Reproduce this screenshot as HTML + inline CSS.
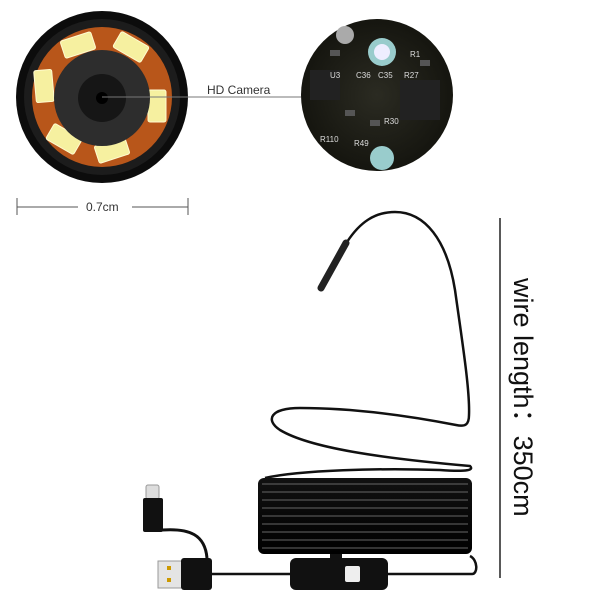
<!DOCTYPE html>
<html><head><meta charset="utf-8"><style>
html,body{margin:0;padding:0;background:#fff;width:600px;height:600px;overflow:hidden}
svg{display:block}
text{font-family:"Liberation Sans","Noto Sans CJK SC",sans-serif}
</style></head><body>
<svg width="600" height="600" viewBox="0 0 600 600" xmlns="http://www.w3.org/2000/svg">
<defs>
<radialGradient id="pcb" cx="50%" cy="50%" r="50%">
<stop offset="0" stop-color="#2b2b22"/><stop offset="1" stop-color="#15150f"/>
</radialGradient>
<linearGradient id="coil" x1="0" y1="0" x2="0" y2="1">
<stop offset="0" stop-color="#111"/><stop offset="1" stop-color="#000"/>
</linearGradient>
</defs>
<circle cx="102" cy="97" r="86" fill="#0c0c0c"/>
<circle cx="102" cy="97" r="78" fill="#1c1c1c"/>
<circle cx="102" cy="97" r="70" fill="#b8561a"/>
<g fill="#f6f0a0" stroke="#fffbd0" stroke-width="1">
<rect x="62" y="36" width="32" height="18" rx="2" transform="rotate(-18 78 45)"/>
<rect x="115" y="38" width="32" height="18" rx="2" transform="rotate(30 131 47)"/>
<rect x="148" y="90" width="18" height="32" rx="2"/>
<rect x="35" y="70" width="18" height="32" rx="2" transform="rotate(-5 44 86)"/>
<rect x="48" y="130" width="32" height="18" rx="2" transform="rotate(30 64 139)"/>
<rect x="96" y="141" width="32" height="18" rx="2" transform="rotate(-18 112 150)"/>
</g>
<circle cx="102" cy="98" r="48" fill="#2d2d2d"/>
<circle cx="102" cy="98" r="24" fill="#161616"/>
<circle cx="102" cy="98" r="6" fill="#000"/>
<line x1="102" y1="97" x2="306" y2="97" stroke="#777" stroke-width="1"/>
<text x="207" y="94" font-size="12" fill="#333">HD Camera</text>
<circle cx="377" cy="95" r="76" fill="url(#pcb)"/>
<g fill="#555">
<rect x="310" y="70" width="30" height="30" fill="#222"/>
<rect x="400" y="80" width="40" height="40" fill="#222"/>
<rect x="345" y="110" width="10" height="6"/><rect x="370" y="120" width="10" height="6"/>
<rect x="420" y="60" width="10" height="6"/><rect x="330" y="50" width="10" height="6"/>
</g>
<circle cx="382" cy="52" r="14" fill="#9cc"/><circle cx="382" cy="52" r="8" fill="#eef"/>
<circle cx="382" cy="158" r="12" fill="#9cc"/>
<circle cx="345" cy="35" r="9" fill="#aaa"/>
<g font-size="8" fill="#ddd">
<text x="330" y="78">U3</text><text x="356" y="78">C36</text><text x="378" y="78">C35</text>
<text x="404" y="78">R27</text><text x="384" y="124">R30</text><text x="320" y="142">R110</text>
<text x="354" y="146">R49</text><text x="410" y="57">R1</text>
</g>
<line x1="17" y1="207" x2="78" y2="207" stroke="#555"/>
<line x1="132" y1="207" x2="188" y2="207" stroke="#555"/>
<line x1="17" y1="198" x2="17" y2="215" stroke="#555"/>
<line x1="188" y1="198" x2="188" y2="215" stroke="#555"/>
<text x="86" y="211" font-size="12" fill="#333">0.7cm</text>
<line x1="500" y1="218" x2="500" y2="578" stroke="#222" stroke-width="1.5"/>
<text transform="translate(514,278) rotate(90)" font-size="27" fill="#111">wire length：350cm</text>
<g fill="none" stroke="#111" stroke-width="2.5" stroke-linejoin="round">
<path d="M347 242 C360 222 375 212 395 212 C425 212 447 240 455 290 C462 340 470 390 469 415 C469 425 465 427 456 425 C420 418 360 408 300 408 C270 408 265 420 280 430 C310 448 380 458 470 466 C474 470 468 472 440 470 C380 468 300 470 265 478"/>
</g>
<line x1="321" y1="288" x2="346" y2="243" stroke="#222" stroke-width="7" stroke-linecap="round"/>
<rect x="258" y="478" width="214" height="76" rx="6" fill="url(#coil)"/>
<g stroke="#666" stroke-width="1">
<line x1="262" y1="484" x2="468" y2="484"/><line x1="262" y1="492" x2="468" y2="492"/>
<line x1="262" y1="500" x2="468" y2="500"/><line x1="262" y1="508" x2="468" y2="508"/>
<line x1="262" y1="516" x2="468" y2="516"/><line x1="262" y1="524" x2="468" y2="524"/>
<line x1="262" y1="532" x2="468" y2="532"/><line x1="262" y1="540" x2="468" y2="540"/>
<line x1="262" y1="548" x2="468" y2="548"/>
</g>
<path d="M212 574 L292 574 M387 574 L472 574 C478 574 478 560 470 556" fill="none" stroke="#111" stroke-width="2.5"/>
<path d="M162 530 C190 528 205 535 207 558" fill="none" stroke="#111" stroke-width="3"/>
<rect x="290" y="558" width="98" height="32" rx="6" fill="#111"/>
<rect x="345" y="566" width="15" height="16" rx="2" fill="#eee"/>
<rect x="330" y="554" width="12" height="5" fill="#111"/>
<rect x="146" y="485" width="13" height="14" rx="2" fill="#ddd" stroke="#999"/>
<rect x="143" y="498" width="20" height="34" rx="2" fill="#111"/>
<rect x="158" y="561" width="25" height="27" fill="#e4e4e4" stroke="#999"/>
<rect x="167" y="566" width="4" height="4" fill="#c90"/><rect x="167" y="578" width="4" height="4" fill="#c90"/>
<rect x="181" y="558" width="31" height="32" rx="3" fill="#111"/>
</svg>
</body></html>
